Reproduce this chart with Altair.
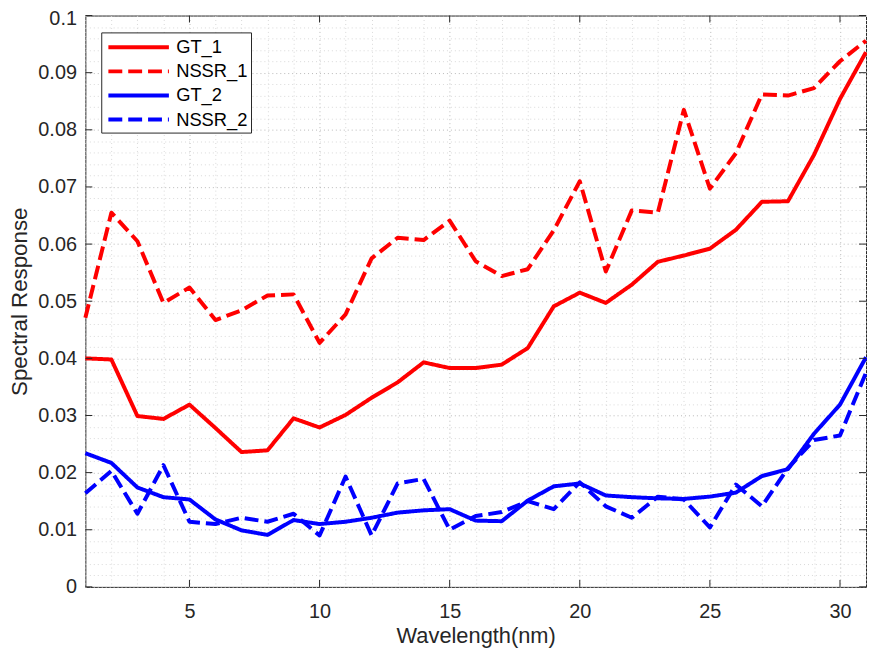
import altair as alt
import pandas as pd

# ---------------- data ----------------
wavelength = list(range(1, 32))
gt_1 = [0.0400, 0.0398, 0.0299, 0.0294, 0.0319, 0.0278, 0.0236, 0.0239, 0.0295, 0.0279,
        0.0301, 0.0331, 0.0358, 0.0393, 0.0383, 0.0383, 0.0389, 0.0418, 0.0491, 0.0515,
        0.0497, 0.0529, 0.0569, 0.0580, 0.0592, 0.0625, 0.0674, 0.0675, 0.0756, 0.0854,
        0.0936]
nssr_1 = [0.0471, 0.0655, 0.0605, 0.0497, 0.0524, 0.0467, 0.0484, 0.0510, 0.0512, 0.0427,
          0.0477, 0.0575, 0.0611, 0.0607, 0.0641, 0.0570, 0.0544, 0.0556, 0.0624, 0.0710,
          0.0552, 0.0659, 0.0655, 0.0835, 0.0697, 0.0759, 0.0862, 0.0860, 0.0873, 0.0920,
          0.0956]
gt_2 = [0.0234, 0.0217, 0.0174, 0.0157, 0.0153, 0.0118, 0.0099, 0.0091, 0.0117, 0.0110,
        0.0114, 0.0121, 0.0130, 0.0134, 0.0136, 0.0116, 0.0115, 0.0151, 0.0176, 0.0181,
        0.0160, 0.0157, 0.0155, 0.0154, 0.0158, 0.0165, 0.0194, 0.0206, 0.0268, 0.0319,
        0.0402]
nssr_2 = [0.0164, 0.0203, 0.0128, 0.0213, 0.0114, 0.0110, 0.0121, 0.0114, 0.0128, 0.0090,
          0.0193, 0.0090, 0.0181, 0.0189, 0.0100, 0.0124, 0.0131, 0.0150, 0.0136, 0.0183,
          0.0141, 0.0121, 0.0158, 0.0153, 0.0104, 0.0179, 0.0141, 0.0208, 0.0257, 0.0265,
          0.0375]
series_names = ["GT_1", "NSSR_1", "GT_2", "NSSR_2"]
series_colors = ["#ff0000", "#ff0000", "#0000ff", "#0000ff"]
series_dashes = [[1, 0], [14, 6], [1, 0], [14, 6]]

x_major_ticks = [5, 10, 15, 20, 25, 30]
y_major_ticks = [0, 0.01, 0.02, 0.03, 0.04, 0.05, 0.06, 0.07, 0.08, 0.09, 0.1]
x_grid_values = wavelength
y_grid_values = [round(i * 0.002, 3) for i in range(51)]

rows = []
for name, vals in zip(series_names, [gt_1, nssr_1, gt_2, nssr_2]):
    for xv, yv in zip(wavelength, vals):
        rows.append({"x": xv, "y": yv, "series": name})
df = pd.DataFrame(rows)

W, H = 787, 576
FONT = "Liberation Sans"
TXT = "#262626"

x_scale = alt.Scale(domain=[1, 31], nice=False, zero=False)
y_scale = alt.Scale(domain=[0, 0.1], nice=False, zero=False)

x_axis = alt.Axis(
    values=x_grid_values,
    labelExpr="datum.value % 5 == 0 ? datum.label : ''",
    ticks=False, domain=False, grid=True,
    gridColor={"condition": {"test": "datum.value % 5 == 0", "value": "#b8b8b8"}, "value": "#d9d9d9"},
    gridDash=[1, 3], gridWidth=1,
    labelFont=FONT, labelFontSize=20, labelColor=TXT, labelPadding=15,
    labelOverlap=False, labelFlush=False,
    title="Wavelength(nm)", titleFont=FONT, titleFontSize=22, titleFontWeight="normal",
    titleColor=TXT, titlePadding=4,
)
y_axis = alt.Axis(
    values=y_grid_values,
    labelExpr="abs(datum.value*100 - round(datum.value*100)) < 0.001 ? format(datum.value, '~g') : ''",
    ticks=False, domain=False, grid=True,
    gridColor={"condition": {"test": "abs(datum.value*100 - round(datum.value*100)) < 0.001",
                             "value": "#b8b8b8"}, "value": "#d9d9d9"},
    gridDash=[1, 3], gridWidth=1,
    labelFont=FONT, labelFontSize=20, labelColor=TXT, labelPadding=9,
    labelOffset={"condition": {"test": "datum.value > 0.099", "value": 3}, "value": 0},
    labelOverlap=False, labelFlush=False,
    title="Spectral Response", titleFont=FONT, titleFontSize=22.5, titleFontWeight="normal",
    titleColor=TXT, titlePadding=6,
)

legend = alt.Legend(
    title=None, orient="none", legendX=16, legendY=17,
    symbolType="M-0.8,0H5.46", symbolSize=380, symbolStrokeWidth=4,
    labelFont=FONT, labelFontSize=18.5, labelColor="#000000", labelOffset=48.5,
    padding=3, rowPadding=2.3, strokeColor="#262626", fillColor="#ffffff",
    cornerRadius=0,
)

lines = alt.Chart(df).mark_line(strokeWidth=4, strokeJoin="round").encode(
    x=alt.X("x:Q", scale=x_scale, axis=x_axis),
    y=alt.Y("y:Q", scale=y_scale, axis=y_axis),
    color=alt.Color("series:N", scale=alt.Scale(domain=series_names, range=series_colors), legend=legend),
    strokeDash=alt.StrokeDash("series:N", scale=alt.Scale(domain=series_names, range=series_dashes), legend=legend),
)

xt = pd.DataFrame({"x": x_major_ticks})
yt = pd.DataFrame({"y": y_major_ticks})
tick = dict(color=TXT, strokeWidth=1)
x_bottom = alt.Chart(xt).mark_rule(**tick).encode(
    x=alt.X("x:Q", scale=x_scale, axis=x_axis), y=alt.value(H), y2=alt.value(H - 7))
x_top = alt.Chart(xt).mark_rule(**tick).encode(
    x=alt.X("x:Q", scale=x_scale, axis=x_axis), y=alt.value(0), y2=alt.value(7))
y_left = alt.Chart(yt).mark_rule(**tick).encode(
    y=alt.Y("y:Q", scale=y_scale, axis=y_axis), x=alt.value(0), x2=alt.value(7))
y_right = alt.Chart(yt).mark_rule(**tick).encode(
    y=alt.Y("y:Q", scale=y_scale, axis=y_axis), x=alt.value(W - 7), x2=alt.value(W))

chart = alt.layer(lines, x_bottom, x_top, y_left, y_right).properties(
    width=W, height=H,
    autosize=alt.AutoSizeParams(type="none"),
    padding={"left": 78, "top": 5, "right": 1, "bottom": 59},
    background="#ffffff",
).configure_view(stroke=TXT, strokeWidth=1)

chart.save("out.html", embed_options={"renderer": "svg", "actions": False})
